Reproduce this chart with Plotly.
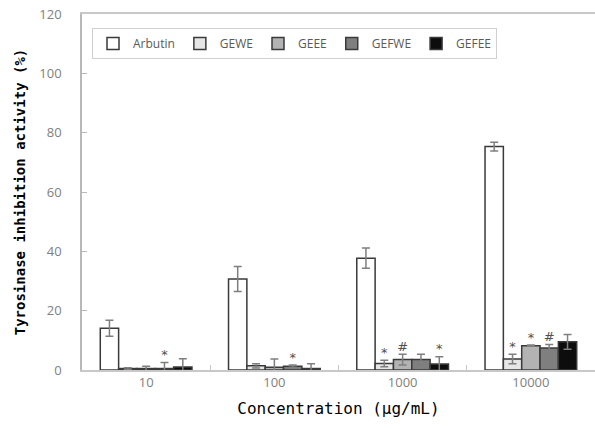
import plotly.graph_objects as go

categories = ["10", "100", "1000", "10000"]
series = ["Arbutin", "GEWE", "GEEE", "GEFWE", "GEFEE"]
values = {
    "Arbutin": [14.1, 30.7, 37.7, 75.3],
    "GEWE": [0.5, 1.4, 2.2, 3.7],
    "GEEE": [0.5, 0.9, 3.5, 8.2],
    "GEFWE": [0.5, 1.3, 3.5, 7.4],
    "GEFEE": [1.0, 0.5, 2.0, 9.5],
}
errors = {
    "Arbutin": [2.7, 4.2, 3.4, 1.5],
    "GEWE": [0.3, 0.7, 1.1, 1.6],
    "GEEE": [0.8, 2.8, 1.8, 0.2],
    "GEFWE": [2.0, 0.4, 1.8, 1.2],
    "GEFEE": [2.8, 1.6, 2.5, 2.5],
}
marks = {
    "Arbutin": ["", "", "", ""],
    "GEWE": ["", "", "*", "*"],
    "GEEE": ["", "", "#", "*"],
    "GEFWE": ["*", "*", "", "#"],
    "GEFEE": ["", "", "*", ""],
}
fills = {
    "Arbutin": "#ffffff",
    "GEWE": "#e6e6e6",
    "GEEE": "#b3b3b3",
    "GEFWE": "#7f7f7f",
    "GEFEE": "#0d0d0d",
}

fig = go.Figure()
for s in series:
    fig.add_trace(go.Bar(
        name=s, x=categories, y=values[s], offsetgroup=s,
        marker=dict(color=fills[s], line=dict(color="#3a3a3a", width=1.5)),
        error_y=dict(type="data", array=errors[s], color="#7f7f7f", thickness=1.5, width=4),
    ))
for s in series:
    tops = [v + e for v, e in zip(values[s], errors[s])]
    fig.add_trace(go.Scatter(
        x=categories, y=tops, text=marks[s], mode="text", offsetgroup=s,
        textposition="top center", showlegend=False, hoverinfo="skip",
        textfont=dict(family="DejaVu Sans", size=13, color="#505050"),
    ))

fig.update_layout(
    width=595, height=429,
    margin=dict(l=82, r=0, t=14, b=59),
    paper_bgcolor="white", plot_bgcolor="white",
    barmode="group", bargap=0.285, bargroupgap=0,
    scattermode="group", scattergap=0.285,
    font=dict(family="Open Sans", color="#595959"),
    showlegend=True,
    legend=dict(
        orientation="h", x=0.0195, y=0.961, xanchor="left", yanchor="top",
        bgcolor="white", bordercolor="#d0d0d0", borderwidth=1,
        font=dict(family="Open Sans", size=12, color="#595959"),
        traceorder="normal",
    ),
    xaxis=dict(
        type="category", showline=True, linecolor="#c8c8c8", linewidth=1.5,
        mirror=True, ticks="inside", tickson="boundaries", ticklen=5,
        tickcolor="#c8c8c8", showgrid=False,
        tickfont=dict(family="Open Sans", size=13, color="#808080"),
        title=dict(text="Concentration (μg/mL)", standoff=12,
                   font=dict(family="DejaVu Sans Mono", size=16, color="#000000")),
    ),
    yaxis=dict(
        range=[0, 120], dtick=20, showline=True, linecolor="#b8b8b8", linewidth=1.5,
        ticks="inside", ticklen=5, tickcolor="#b8b8b8", showgrid=False, zeroline=False,
        ticklabelstandoff=16,
        tickfont=dict(family="Open Sans", size=13, color="#808080"),
        title=dict(text="<b>Tyrosinase inhibition activity (%)</b>", standoff=10,
                   font=dict(family="DejaVu Sans Mono", size=14, color="#000000")),
    ),
)

fig.write_html("out.html")
